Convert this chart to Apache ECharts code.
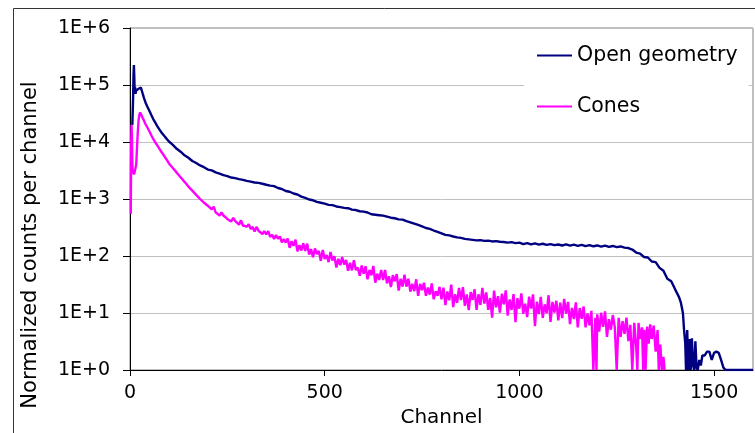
<!DOCTYPE html>
<html>
<head>
<meta charset="utf-8">
<script src="https://cdn.jsdelivr.net/npm/echarts@6/dist/echarts.min.js"></script>
<style>
  html, body { margin: 0; padding: 0; background: #fff; }
  #chart { width: 755px; height: 433px; }
</style>
</head>
<body>
<div id="chart"></div>
<script>
// Pulse-height spectra: [channel, normalized counts per channel]
const seriesNames = ['Open geometry', 'Cones'];

const openGeometry = [
  [6,20000],[8,60000],[9,150000],[10,225000],[11,140000],[12,72000],[13,92000],[14,70000],
  [16,80000],[18,77000],[20,83000],[22,86000],[24,89000],[26,92000],[28,90000],[30,81000],
  [33,69000],[36,59000],[40,49000],[45,41000],[50,35000],[55,29500],[60,25000],[65,21800],
  [70,19000],[75,16800],[80,15000],[85,13600],[90,12300],[95,11200],[100,10200],[110,8900],
  [120,7600],[130,6750],[140,5850],[150,5300],[160,4650],[170,4280],[180,3880],[190,3620],
  [200,3280],[210,3170],[220,2930],[230,2780],[240,2620],[250,2520],[260,2380],[270,2320],
  [280,2230],[290,2170],[300,2080],[310,2020],[320,1950],[330,1920],[340,1850],[350,1780],
  [360,1720],[370,1680],[380,1560],[390,1500],[400,1380],[410,1340],[420,1250],[430,1200],
  [440,1100],[450,1050],[460,980],[470,950],[480,890],[490,860],[500,830],[510,790],
  [520,780],[530,740],[540,720],[550,700],[560,690],[570,650],[580,640],[590,610],
  [600,600],[610,580],[620,540],[630,530],[640,520],[650,510],[660,490],[670,470],
  [680,460],[690,440],[700,435],[710,410],[720,390],[730,370],[740,350],[750,330],
  [760,310],[770,300],[780,280],[790,265],[800,250],[810,235],[820,230],[830,220],
  [840,212],[850,208],[860,200],[870,196],[880,192],[890,188],[900,190],[910,184],
  [920,186],[930,180],[940,182],[950,178],[960,176],[970,172],[980,175],[990,168],
  [1000,172],[1010,162],[1020,168],[1030,160],[1040,166],[1050,158],[1060,164],[1070,157],
  [1080,162],[1090,155],[1100,159],[1110,153],[1120,160],[1130,152],[1140,158],[1150,151],
  [1160,157],[1170,149],[1180,155],[1190,148],[1200,153],[1210,146],[1220,152],[1230,145],
  [1240,150],[1250,143],[1260,147],[1270,140],[1280,138],[1290,130],[1300,115],[1310,110],
  [1320,96],[1330,94],[1340,80],[1350,78],[1360,62],[1370,55],[1380,40],[1390,36],
  [1400,26],[1405,24],[1410,19],[1415,15],[1420,10],[1423,5],[1426,3],[1428,1],
  [1431,5],[1434,1],[1437,3.5],[1440,1],[1443,3.6],[1446,1.2],[1449,1],[1452,3.2],
  [1455,1.1],[1458,1],[1462,1.5],[1466,1.2],[1470,1.8],[1476,1.8],[1482,2.1],[1488,2.1],
  [1494,1.5],[1500,2],[1506,2.1],[1512,2],[1518,1.5],[1524,1.1],[1530,1],[1600,1]
];

const cones = [
  [2,550],[3,8000],[4,20000],[5,12000],[6,4000],[7,2800],[8,3200],[10,2700],
  [12,3000],[14,2800],[16,4000],[18,8000],[20,15000],[22,24000],[24,30000],[26,33000],
  [28,32000],[30,29000],[33,26000],[36,23500],[40,20500],[45,17800],[50,15300],[55,13000],
  [60,11200],[65,9800],[70,8700],[75,7700],[80,6800],[85,6100],[90,5400],[95,4800],
  [100,4200],[110,3500],[120,2900],[130,2400],[140,2000],[150,1650],[160,1400],[170,1180],
  [180,1000],[190,860],[200,760],[205,776],[210,661],[215,733],[220,582],[225,610],
  [230,513],[235,582],[240,513],[245,550],[250,447],[255,479],[260,403],[265,468],
  [270,412],[275,422],[280,355],[285,422],[290,343],[295,359],[300,327],[305,361],
  [310,298],[315,324],[320,268],[325,324],[330,277],[335,294],[340,243],[345,274],
  [350,240],[355,273],[360,217],[365,236],[370,199],[375,232],[380,202],[385,220],
  [390,173],[395,197],[400,172],[405,203],[410,139],[415,182],[420,151],[425,193],
  [430,121],[435,155],[440,125],[445,167],[450,123],[455,165],[460,106],[465,132],
  [470,95],[475,136],[480,108],[485,123],[490,82],[495,127],[500,89],[505,104],
  [510,78],[515,118],[520,83],[525,99],[530,63],[535,89],[540,69],[545,96],
  [550,71],[555,85],[560,55],[565,76],[570,56],[575,84],[580,56.5],[585,63],
  [590,45],[595,68],[600,49],[605,66],[610,39],[615,57],[620,46],[625,67],
  [630,34],[635,49],[640,38],[645,57],[650,38],[655,57],[660,33],[665,44],
  [670,28.6],[675,46],[680,36],[685,48],[690,24.8],[695,40],[700,29],[705,47],
  [710,29],[715,40],[720,23.7],[725,32.6],[730,24.2],[735,39],[740,20],[745,32.5],
  [750,25.2],[755,34],[760,20],[765,28],[770,21],[775,33],[780,17.4],[785,24],
  [790,20],[795,28.8],[800,17.4],[805,27.9],[810,13.8],[815,23.8],[820,16.7],[825,31.5],
  [830,12.7],[835,21.4],[840,15],[845,27.6],[850,16.9],[855,28.3],[860,13.4],[865,21.1],
  [870,11.2],[875,23.2],[880,17],[885,26.1],[890,11.3],[895,21.3],[900,13.9],[905,27.5],
  [910,14.6],[915,23],[920,11.4],[925,18.3],[930,8.3],[935,24.7],[940,12.6],[945,19.7],
  [950,10.2],[955,21.7],[960,14.2],[965,24.9],[970,9],[975,17.3],[980,11.3],[985,21.4],
  [990,6.9],[995,18.2],[1000,11.9],[1005,22],[1010,9.7],[1015,14.6],[1020,8.5],[1025,19.3],
  [1030,12],[1035,21.2],[1040,5.9],[1045,15.8],[1050,9.6],[1055,19.1],[1060,8.2],[1065,14.2],
  [1070,9.9],[1075,20.5],[1080,7],[1085,15.6],[1090,10.2],[1095,16.4],[1100,7.4],[1105,15.2],
  [1110,8.1],[1115,17.7],[1120,9.8],[1125,15.7],[1130,6.4],[1135,12.3],[1140,7.8],[1145,15.4],
  [1150,5.6],[1155,12.2],[1160,7.9],[1165,13],[1170,5.6],[1175,9.8],[1180,6.1],[1185,10.9],
  [1190,1],[1195,8.2],[1198,1],[1200,9.5],[1205,4.7],[1210,10.1],[1215,5.7],[1220,10.7],
  [1225,3.8],[1230,7.8],[1235,5.1],[1240,9.2],[1245,5.7],[1250,1],[1255,8.2],[1260,3.8],
  [1265,7.2],[1270,4.3],[1275,8.3],[1280,3.2],[1285,6.2],[1290,1],[1295,6.7],[1300,2.6],
  [1303,1],[1306,6.7],[1310,3.5],[1315,5.6],[1318,1],[1321,5.1],[1324,1],[1328,5.8],
  [1332,2.9],[1336,6.3],[1340,3.5],[1345,6],[1350,2.1],[1355,5],[1358,1],[1362,2.8],
  [1366,1],[1370,1.7],[1373,1]
];

const xTickValues = [0, 500, 1000, 1500];
const seriesColors = ['#000080', '#ff00ff'];

const FONT = 'DejaVu Sans';
const chart = echarts.init(document.getElementById('chart'), null, { renderer: 'canvas' });

chart.setOption({
  animation: false,
  backgroundColor: '#ffffff',
  grid: {
    left: 130, top: 28, right: 2, bottom: 60,
    show: true, borderColor: '#808080', borderWidth: 1, backgroundColor: 'transparent'
  },
  xAxis: {
    type: 'value', min: 0, max: 1600, interval: 500,
    name: 'Channel', nameLocation: 'middle', nameGap: 38,
    nameTextStyle: { fontFamily: FONT, fontSize: 20, color: '#000' },
    axisLine: { show: true, onZero: false, lineStyle: { color: '#000', width: 1 } },
    axisTick: { show: true, length: 6, customValues: xTickValues, lineStyle: { color: '#000' } },
    axisLabel: {
      customValues: xTickValues, margin: 14, fontFamily: FONT, fontSize: 19, color: '#000',
      formatter: v => String(v)
    },
    splitLine: { show: false }
  },
  yAxis: {
    type: 'log', logBase: 10, min: 1, max: 1e6, splitNumber: 6,
    axisLine: { show: true, lineStyle: { color: '#000', width: 1 } },
    axisTick: { show: true, length: 7, lineStyle: { color: '#000' } },
    axisLabel: {
      margin: 20, fontFamily: FONT, fontSize: 19, color: '#000',
      formatter: v => '1E+' + Math.round(Math.log10(v))
    },
    splitLine: { show: true, lineStyle: { color: '#c0c0c0', width: 1 } }
  },
  legend: {
    data: seriesNames,
    orient: 'vertical', left: 524, top: 29,
    padding: [16, 11, 15, 13], itemGap: 30,
    icon: 'rect', itemWidth: 35, itemHeight: 2,
    backgroundColor: '#ffffff',
    textStyle: { fontFamily: FONT, fontSize: 20.5, color: '#000' }
  },
  graphic: [
    {
      type: 'rect', silent: true, z: 100,
      shape: { x: 13.5, y: 8.5, width: 780, height: 460 },
      style: { fill: 'transparent', stroke: '#333', lineWidth: 1 }
    },
    {
      type: 'text', silent: true, x: 31, y: 245, rotation: Math.PI / 2,
      style: {
        text: 'Normalized counts per channel',
        fontFamily: FONT, fontSize: 21, fill: '#000',
        align: 'center', verticalAlign: 'middle'
      }
    }
  ],
  series: [
    {
      name: seriesNames[0], type: 'line', data: openGeometry,
      showSymbol: false, symbol: 'none', z: 3,
      lineStyle: { color: seriesColors[0], width: 2.4 },
      itemStyle: { color: seriesColors[0] }
    },
    {
      name: seriesNames[1], type: 'line', data: cones,
      showSymbol: false, symbol: 'none', z: 2,
      lineStyle: { color: seriesColors[1], width: 2.4 },
      itemStyle: { color: seriesColors[1] }
    }
  ]
});
</script>
</body>
</html>
